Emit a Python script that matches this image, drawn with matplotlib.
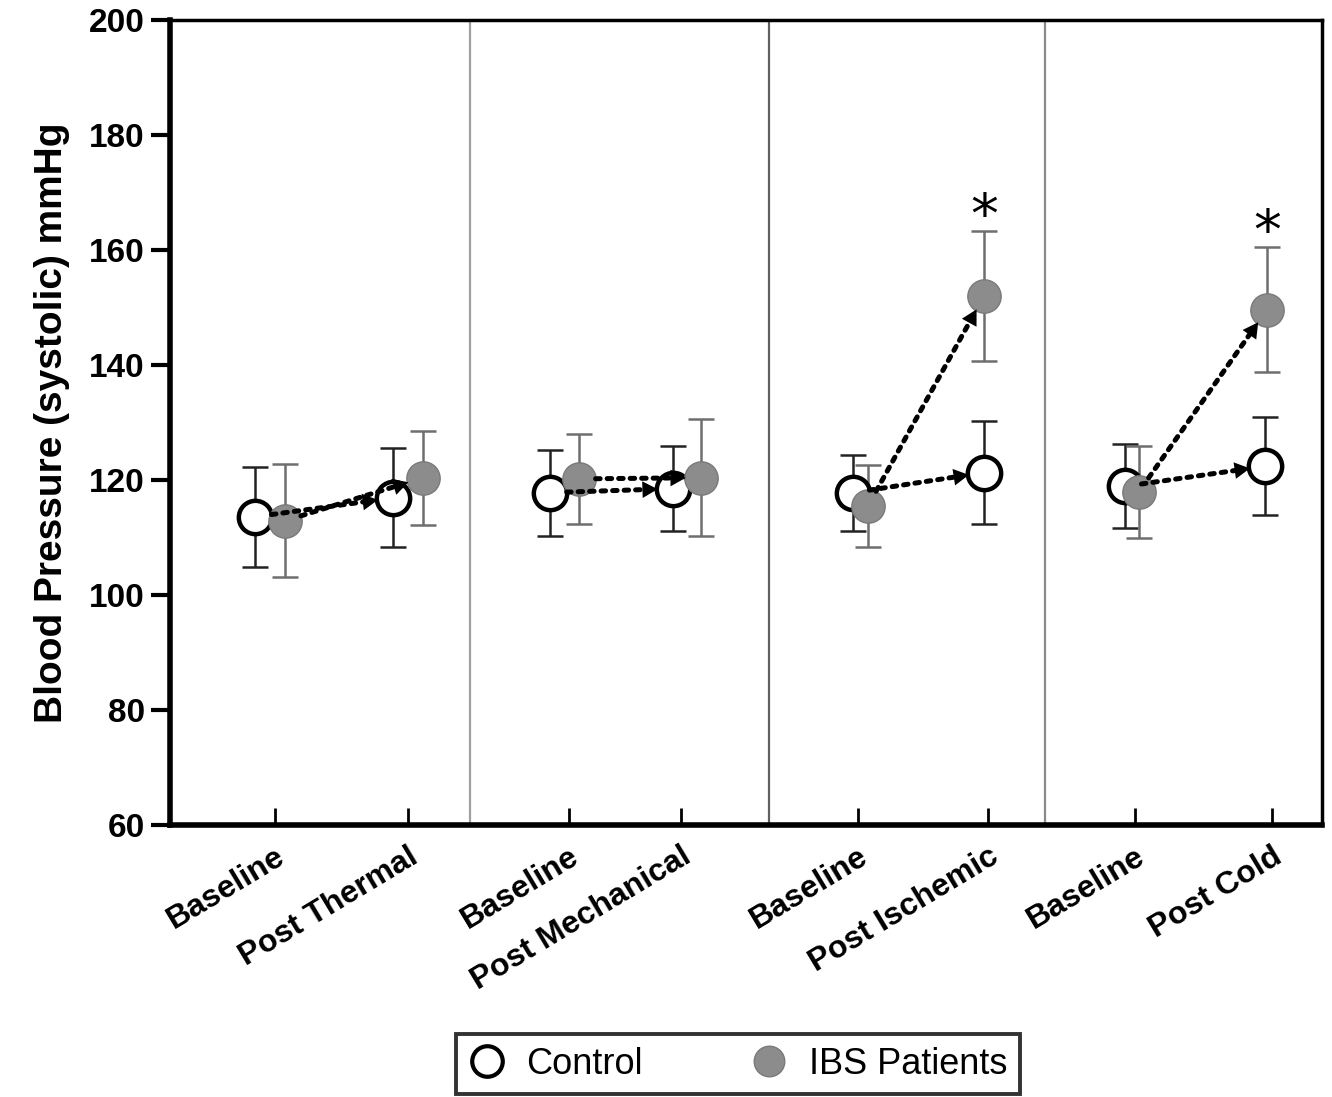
import numpy as np
import matplotlib
matplotlib.use("Agg")
import matplotlib.pyplot as plt
import matplotlib.transforms as mtransforms
from matplotlib.lines import Line2D

plt.rcParams['font.family'] = ['Liberation Sans', 'DejaVu Sans']

# conditions, in plotting order
conditions = ['Baseline', 'Post Thermal', 'Baseline', 'Post Mechanical',
              'Baseline', 'Post Ischemic', 'Baseline', 'Post Cold']

# systolic blood pressure, mean and error (mmHg)
control_mean = [113.6, 116.9, 117.8, 118.5, 117.8, 121.3, 118.9, 122.4]
control_err = [8.7, 8.6, 7.5, 7.4, 6.6, 9.0, 7.3, 8.5]
ibs_mean = [112.9, 120.4, 120.2, 120.4, 115.5, 152.0, 118.0, 149.6]
ibs_err = [9.8, 8.2, 7.8, 10.2, 7.1, 11.3, 8.0, 10.9]
significant = [False, False, False, False, False, True, False, True]

# layout (x positions along the axis)
tick_x = [1.05, 2.38, 3.99, 5.11, 6.88, 8.18, 9.65, 11.02]
control_x = [0.85, 2.23, 3.80, 5.03, 6.83, 8.14, 9.55, 10.95]
ibs_x = [1.15, 2.53, 4.09, 5.31, 6.98, 8.14, 9.69, 10.97]
separators = [3.00, 5.99, 8.75]
sep_colors = ['#a0a0a0', '#606060', '#8a8a8a']

GRAY = '#8c8c8c'

fig = plt.figure(figsize=(13.32, 10.97), dpi=100)
ax = fig.add_axes([0.1276, 0.2479, 0.8649, 0.7339])

for xs, c in zip(separators, sep_colors):
    ax.axvline(xs, color=c, lw=1.6, zorder=1)

# error bars + markers
ax.errorbar(control_x, control_mean, yerr=control_err, fmt='none',
            ecolor='#222222', elinewidth=1.8, capsize=9.5, capthick=1.8, zorder=2)
ax.errorbar(ibs_x, ibs_mean, yerr=ibs_err, fmt='none',
            ecolor='#6e6e6e', elinewidth=1.8, capsize=9.5, capthick=1.8, zorder=2)
ax.plot(control_x, control_mean, 'o', ls='none', ms=24, mfc='white',
        mec='black', mew=3.2, zorder=3)
ax.plot(ibs_x, ibs_mean, 'o', ls='none', ms=24, mfc=GRAY,
        mec='#7a7a7a', mew=1, zorder=4)

# dotted arrows baseline -> post (dotted shaft + solid head)
shaft = dict(arrowstyle='-', lw=3.6, ls=(0, (0.9, 1.4)), color='black',
             shrinkA=12, shrinkB=20)
head = dict(arrowstyle='-|>,head_length=0.55,head_width=0.3', lw=0,
            color='black', shrinkA=12, shrinkB=11, mutation_scale=20)


def arrow(x0, y0, x1, y1):
    ax.annotate('', xy=(x1, y1), xytext=(x0, y0), arrowprops=shaft, zorder=5)
    ax.annotate('', xy=(x1, y1), xytext=(x0, y0), arrowprops=head, zorder=5)


for i in range(0, 8, 2):
    arrow(control_x[i], control_mean[i], control_x[i + 1], control_mean[i + 1])
    arrow(ibs_x[i], ibs_mean[i], ibs_x[i + 1], ibs_mean[i + 1])

for i, s in enumerate(significant):
    if s:
        ax.text(ibs_x[i], ibs_mean[i] + ibs_err[i] - 2.5, '*', ha='center',
                va='bottom', fontsize=40, family='DejaVu Sans')

ax.set_xlim(0, 11.52)
ax.set_ylim(60, 200)
ax.set_yticks(np.arange(60, 201, 20))
ax.set_xticks(tick_x)
ax.set_xticklabels(conditions, rotation=31, ha='right',
                   rotation_mode='anchor', fontsize=23, fontweight='bold')
shift = mtransforms.ScaledTranslation(10 / 100, 4 / 100, fig.dpi_scale_trans)
for lbl in ax.get_xticklabels():
    lbl.set_transform(lbl.get_transform() + shift)
for lbl in ax.get_yticklabels():
    lbl.set_fontsize(24)
    lbl.set_fontweight('bold')
ax.tick_params(axis='y', length=14, width=3, pad=4)
ax.tick_params(axis='x', direction='in', length=12, width=2, pad=12)

ax.spines['left'].set_linewidth(4)
ax.spines['bottom'].set_linewidth(4)
ax.spines['top'].set_linewidth(2.5)
ax.spines['right'].set_linewidth(2.5)

ax.set_ylabel('Blood Pressure (systolic) mmHg', fontsize=28,
              fontweight='bold', labelpad=14)

handles = [
    Line2D([], [], marker='o', ls='none', ms=22, mfc='white', mec='black',
           mew=3, label='Control'),
    Line2D([], [], marker='o', ls='none', ms=22, mfc=GRAY, mec='#7a7a7a',
           mew=1, label='IBS Patients'),
]
leg = fig.legend(handles=handles, loc='center', bbox_to_anchor=(0.554, 0.030),
                 ncol=2, fontsize=26, frameon=True, fancybox=False,
                 edgecolor='black', handletextpad=0.6, columnspacing=3.0,
                 borderpad=0.35, handlelength=1.0)
leg.get_frame().set_linewidth(2.8)

fig.savefig('out.png', dpi=100)
